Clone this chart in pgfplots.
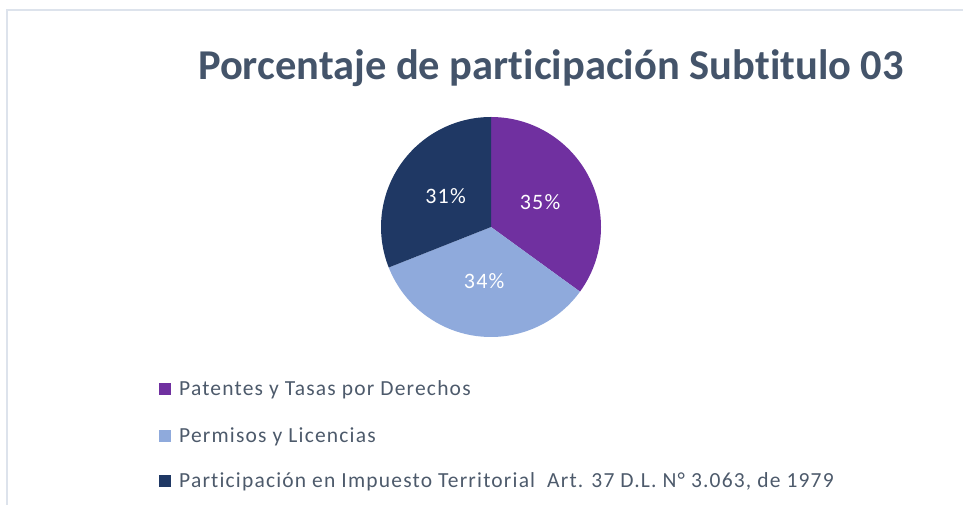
\documentclass[border=0pt]{standalone}
\usepackage{pgfplots}
\pgfplotsset{compat=1.18}
\usepackage{pgfplotstable}
\usepackage{fontspec}
\setmainfont{Carlito}[Ligatures=NoCommon]
\newfontfamily\legfont{Carlito}[Ligatures=NoCommon, LetterSpace=5.5]

\definecolor{cPat}{HTML}{7030A0}
\definecolor{cPer}{HTML}{8FAADC}
\definecolor{cPar}{HTML}{1F3864}
\definecolor{cTitle}{HTML}{44546A}
\definecolor{cText}{HTML}{4D5A6B}
\definecolor{cFrame}{HTML}{DDE3EC}

% shares of Subtitulo 03 (%)
\pgfplotstableread{
idx value
0   35
1   34
2   31
}\piedata

% slice angles, clockwise from the top
\pgfplotstablegetelem{0}{value}\of\piedata \edef\vA{\pgfplotsretval}
\pgfplotstablegetelem{1}{value}\of\piedata \edef\vB{\pgfplotsretval}
\pgfplotstablegetelem{2}{value}\of\piedata \edef\vC{\pgfplotsretval}
\pgfmathsetmacro\aA{90}
\pgfmathsetmacro\aB{\aA-3.6*\vA}
\pgfmathsetmacro\aC{\aB-3.6*\vB}
\pgfmathsetmacro\aD{\aC-3.6*\vC}
\pgfmathsetmacro\mA{(\aA+\aB)/2}
\pgfmathsetmacro\mB{(\aB+\aC)/2}
\pgfmathsetmacro\mC{(\aC+\aD)/2}

\begin{document}
\begin{tikzpicture}
\begin{axis}[
  width=963pt, height=505pt,
  scale only axis,
  xmin=0, xmax=963, ymin=0, ymax=505,
  hide axis,
  clip=false,
]
% frame
\draw[cFrame, line width=2pt] (axis cs:7,0) -- (axis cs:7,495) -- (axis cs:963,495);

% title
\node[anchor=base, inner sep=0pt, font=\fontsize{42.5}{48}\selectfont\bfseries, text=cTitle]
  at (axis cs:551,425) {Porcentaje de participación Subtitulo 03};

% slices
\fill[cPat] (axis cs:491,278) -- ++(\aA:110pt) arc[start angle=\aA, end angle=\aB, radius=110pt] -- cycle;
\fill[cPer] (axis cs:491,278) -- ++(\aB:110pt) arc[start angle=\aB, end angle=\aC, radius=110pt] -- cycle;
\fill[cPar] (axis cs:491,278) -- ++(\aC:110pt) arc[start angle=\aC, end angle=\aD, radius=110pt] -- cycle;

% data labels
\node[text=white, font=\legfont\fontsize{22}{26}\selectfont] at ([shift={(\mA:55pt)}]axis cs:491,278) {\vA\%};
\node[text=white, font=\legfont\fontsize{22}{26}\selectfont] at ([shift={(\mB:55pt)}]axis cs:491,278) {\vB\%};
\node[text=white, font=\legfont\fontsize{22}{26}\selectfont] at ([shift={(\mC:55pt)}]axis cs:491,278) {\vC\%};

% legend
\fill[cPat] (axis cs:159,110) rectangle (axis cs:171,122);
\fill[cPer] (axis cs:159,63) rectangle (axis cs:171,75);
\fill[cPar] (axis cs:159,18) rectangle (axis cs:171,30);
\node[anchor=base west, inner sep=0pt, text=cText, font=\legfont\fontsize{21.5}{26}\selectfont]
  at (axis cs:179,109) {Patentes y Tasas por Derechos};
\node[anchor=base west, inner sep=0pt, text=cText, font=\legfont\fontsize{21.5}{26}\selectfont]
  at (axis cs:179,62) {Permisos y Licencias};
\node[anchor=base west, inner sep=0pt, text=cText, font=\legfont\fontsize{21.5}{26}\selectfont]
  at (axis cs:179,17) {Participación en Impuesto Territorial\ \ Art. 37 D.L. N° 3.063, de 1979};
\end{axis}
\pgfresetboundingbox
\useasboundingbox (current axis.south west) rectangle (current axis.north east);
\end{tikzpicture}
\end{document}
